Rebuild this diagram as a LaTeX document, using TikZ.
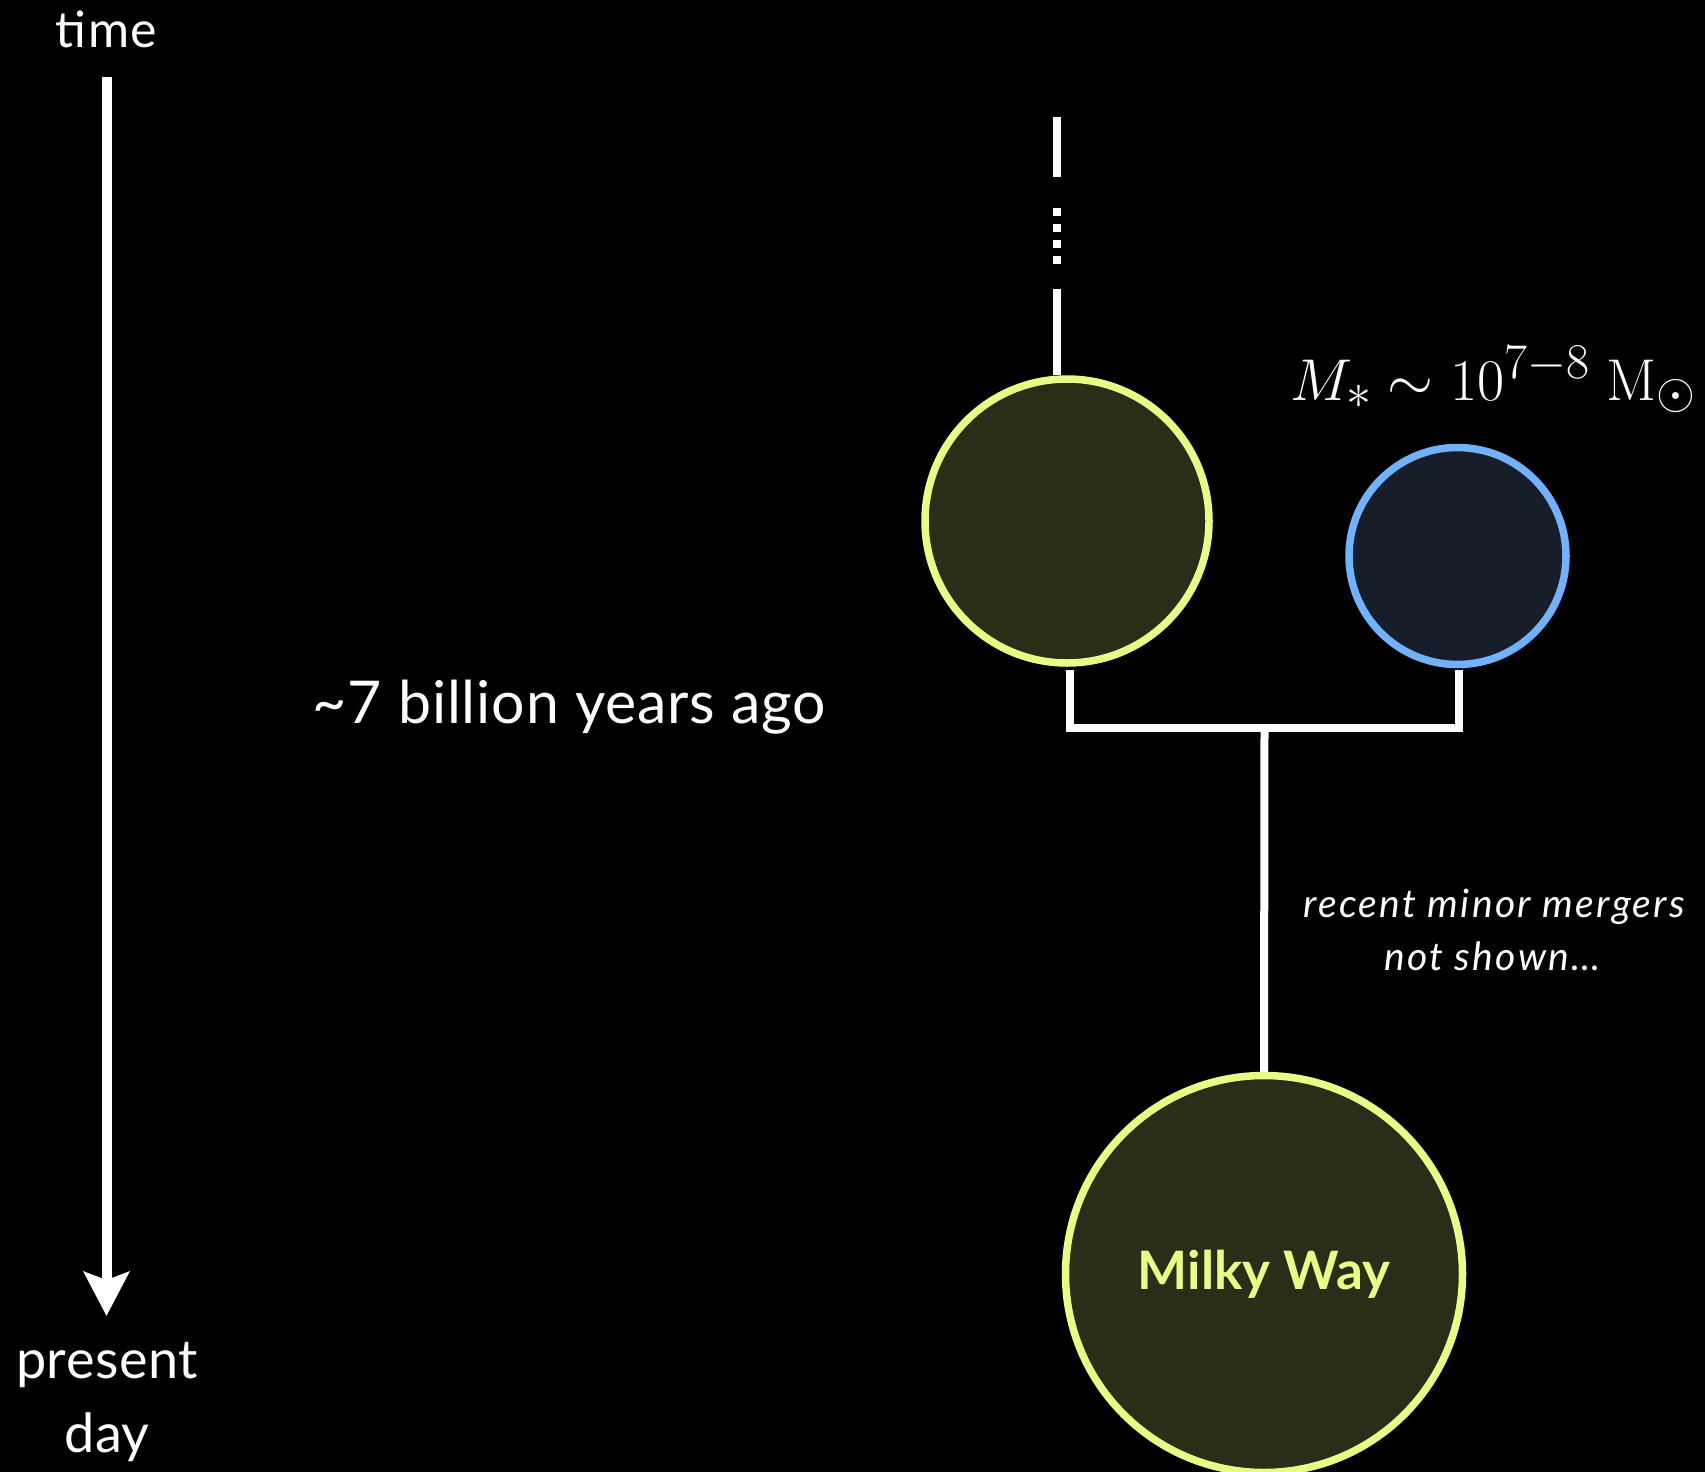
\documentclass[tikz,border=0pt]{standalone}
\usepackage{fix-cm}
\usepackage[no-math]{fontspec}
\setmainfont{Lato}
\DeclareMathSizes{59}{59}{50}{41}
\usetikzlibrary{arrows.meta}
\definecolor{mwyellow}{RGB}{233,253,131}
\definecolor{mwfill}{RGB}{42,45,24}
\definecolor{satblue}{RGB}{112,178,255}
\definecolor{satfill}{RGB}{23,30,42}
\begin{document}
\begin{tikzpicture}[x=1pt,y=-1pt,
  lbl/.style={text=white, inner sep=0pt},
  branch/.style={draw=white, line width=8pt},
  galaxy/.style={circle, inner sep=0pt, line width=7.5pt},
]
\fill[black] (0,0) rectangle (1705,1472);
\useasboundingbox (0,0) rectangle (1705,1472);

% time axis
\node[lbl, anchor=base, font=\fontsize{50}{60}\selectfont\addfontfeatures{LetterSpace=3}] (time) at (106.5,47.7) {time};
\node[lbl, anchor=base, font=\fontsize{54}{64}\selectfont\addfontfeatures{LetterSpace=1}] (present) at (107,1378) {present};
\node[lbl, anchor=base, font=\fontsize{54}{64}\selectfont\addfontfeatures{LetterSpace=1}] (day) at (107,1452) {day};
\coordinate (ts) at (106.5,76.7);
\coordinate (te) at (106.5,1316);
\draw[white, line width=10pt, -{Stealth[length=44pt, width=45pt, inset=8pt]}] (ts) -- (te);

\node[lbl, anchor=base, font=\fontsize{59}{70}\selectfont\addfontfeatures{LetterSpace=1.5}] (ago) at (569.5,723) {\textasciitilde 7 billion years ago};

% galaxies
\node[galaxy, draw=mwyellow, fill=mwfill, minimum size=284pt] (A) at (1067,521) {};
\node[galaxy, draw=satblue, fill=satfill, minimum size=217pt] (B) at (1457.5,556) {};
\node[galaxy, draw=mwyellow, fill=mwfill, minimum size=397pt, text=mwyellow,
      font=\bfseries\fontsize{53}{64}\selectfont] (MW) at (1264,1274) {Milky Way};

\node[lbl, anchor=base west, font=\fontsize{59}{70}\selectfont] (mass) at (1290,400)
  {$M_* \sim 10^{7-8}\;\mathrm{M}_\odot$};

% history line above progenitor
\coordinate (L1) at (1057,117);
\coordinate (L2) at (1057,177);
\coordinate (D1) at (1057,208.3);
\coordinate (D2) at (1057,265);
\coordinate (L3) at (1057,289);
\draw[branch, line width=8.5pt] (L1) -- (L2);
\draw[branch, line width=8.5pt, dash pattern=on 8pt off 8pt] (D1) -- (D2);
\draw[branch, line width=8.5pt] (L3) -- (L3 |- A.north);

% merger bracket
\coordinate (J) at (1264.5,727.5);
\draw[branch] ([xshift=3pt,yshift=-3pt]A.south) |- (J) -| ([xshift=1.5pt,yshift=-2pt]B.south);
\draw[branch] (J) -- (MW.north);

% note
\node[lbl, anchor=base, font=\itshape\fontsize{39}{50}\selectfont\addfontfeatures{LetterSpace=6}] (note1) at (1494,917) {recent minor mergers};
\node[lbl, anchor=base, font=\itshape\fontsize{39}{50}\selectfont\addfontfeatures{LetterSpace=6}] (note2) at (1492.5,970) {not shown…};
\end{tikzpicture}
\end{document}
